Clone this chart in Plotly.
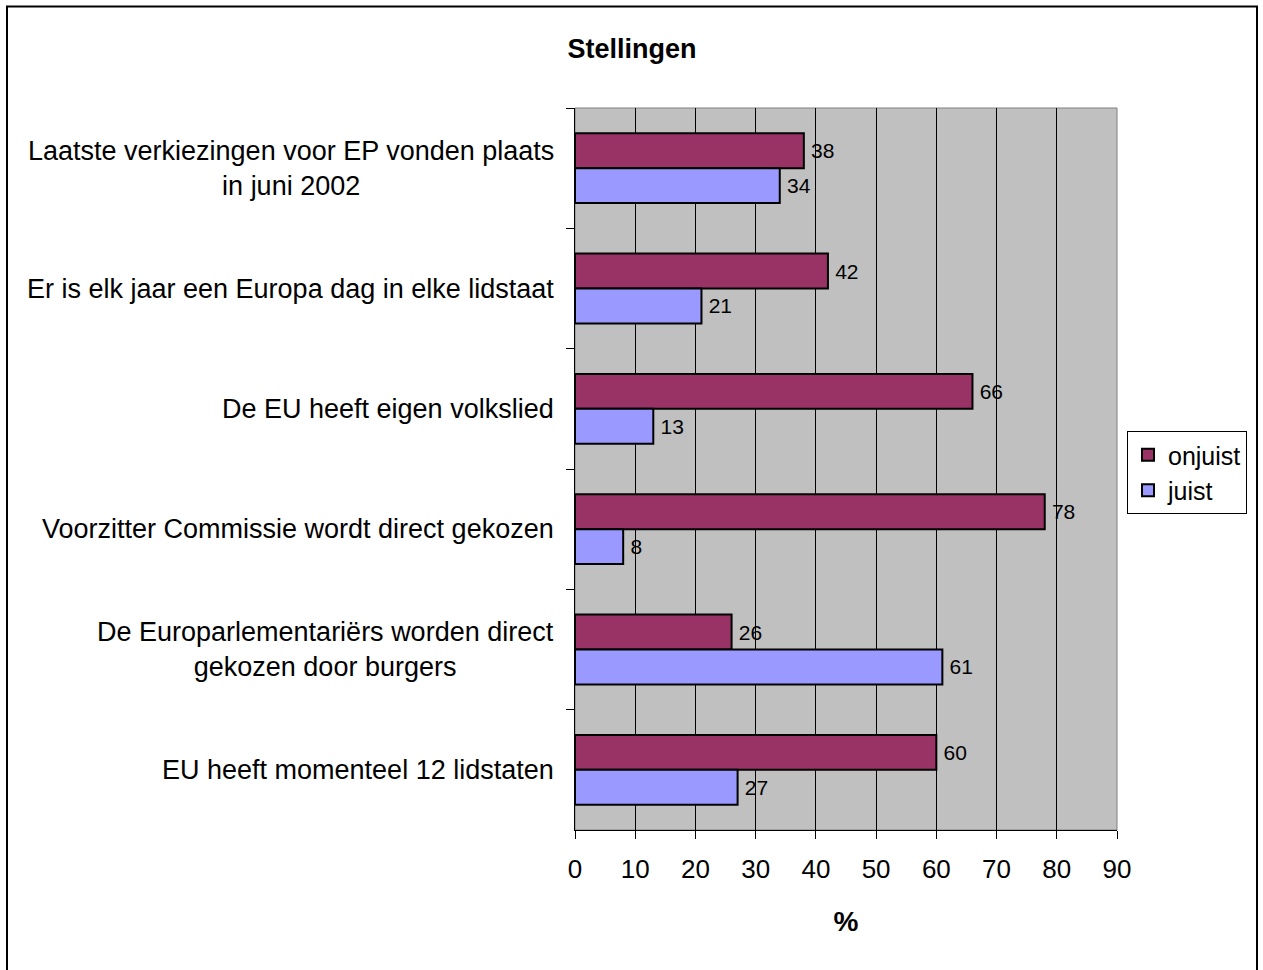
import plotly.graph_objects as go

categories = [
    "Laatste verkiezingen voor EP vonden plaats<br>in juni 2002",
    "Er is elk jaar een Europa dag in elke lidstaat",
    "De EU heeft eigen volkslied",
    "Voorzitter Commissie wordt direct gekozen",
    "De Europarlementariërs worden direct<br>gekozen door burgers",
    "EU heeft momenteel 12 lidstaten",
]
onjuist = [38, 42, 66, 78, 26, 60]
juist = [34, 21, 13, 8, 61, 27]
x_ticks = [0, 10, 20, 30, 40, 50, 60, 70, 80, 90]

FONT = "Liberation Sans, Arial, sans-serif"

fig = go.Figure()
fig.add_trace(go.Bar(
    y=categories, x=onjuist, name="onjuist", orientation="h",
    marker=dict(color="#993366", line=dict(color="black", width=2)),
    text=onjuist, texttemplate="\u2009%{x}", textposition="outside", cliponaxis=False,
    textfont=dict(size=21, color="black", family=FONT),
))
fig.add_trace(go.Bar(
    y=categories, x=juist, name="juist", orientation="h",
    marker=dict(color="#9999FF", line=dict(color="black", width=2)),
    text=juist, texttemplate="\u2009%{x}", textposition="outside", cliponaxis=False,
    textfont=dict(size=21, color="black", family=FONT),
))

for c in categories:
    fig.add_annotation(
        x=-0.035, xref="paper", y=c, yref="y", text=c, showarrow=False,
        xanchor="right", yanchor="middle", align="center",
        font=dict(size=27, color="black", family=FONT),
    )

W, H = 1263, 970
L, R, T, B = 575, 146, 108, 140
pw, ph = W - L - R, H - T - B
def px(x):
    return (x - L) / pw
def py(y):
    return (H - B - y) / ph

fig.add_shape(type="rect", xref="paper", yref="paper",
              x0=px(7), x1=px(1257), y0=py(990), y1=py(6.5),
              line=dict(color="black", width=2), layer="below")
fig.add_shape(type="rect", xref="paper", yref="paper",
              x0=0, x1=1, y0=0, y1=1,
              line=dict(color="#808080", width=1), layer="below")

fig.update_layout(
    width=W, height=H,
    margin=dict(l=L, r=R, t=T, b=B, autoexpand=False),
    paper_bgcolor="white", plot_bgcolor="#C0C0C0",
    barmode="group", bargap=0.42, bargroupgap=0,
    font=dict(family=FONT, color="black"),
    title=dict(text="<b>Stellingen</b>", xref="paper", x=px(632), xanchor="center",
               y=1 - 49 / H, yanchor="middle", font=dict(size=27, family=FONT)),
    legend=dict(x=px(1127), xanchor="left", y=py(431), yanchor="top",
                bordercolor="black", borderwidth=1, bgcolor="white",
                font=dict(size=25, family=FONT), traceorder="normal",
                itemwidth=30, tracegroupgap=0),
    showlegend=True,
)
fig.update_xaxes(
    range=[0, 90], tickvals=x_ticks, ticks="outside", ticklen=8, tickcolor="black",
    showgrid=True, gridcolor="black", gridwidth=1,
    showline=True, linecolor="black", linewidth=1,
    tickfont=dict(size=26, family=FONT), zeroline=False, ticklabelstandoff=8,
    title=dict(text="<b>%</b>", font=dict(size=28, family=FONT), standoff=28),
)
fig.update_yaxes(
    autorange="reversed", tickson="boundaries", ticks="outside", ticklen=8,
    tickcolor="black", showticklabels=False, showgrid=False,
    showline=True, linecolor="black", linewidth=1,
)

fig.write_html("out.html", config={"displayModeBar": False},
               post_script="document.body.style.margin='0';")
